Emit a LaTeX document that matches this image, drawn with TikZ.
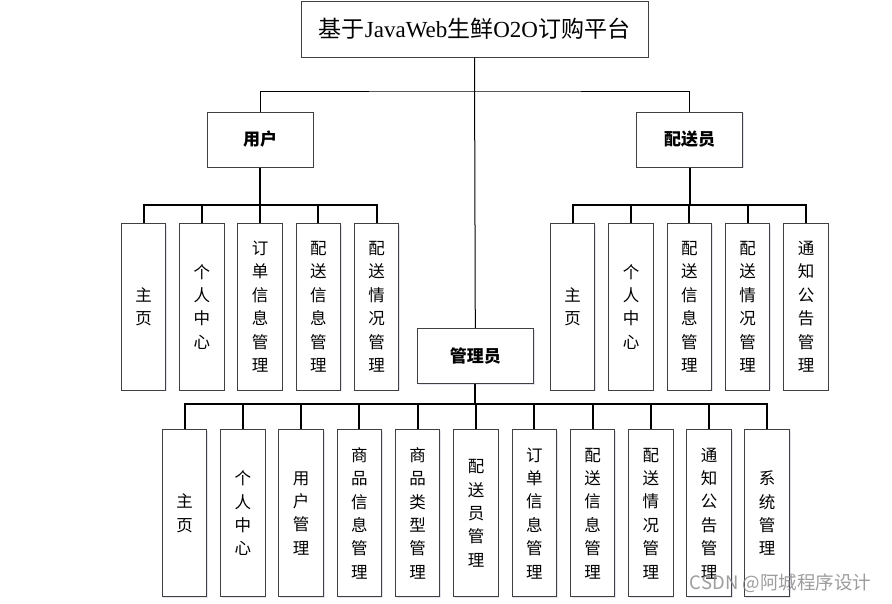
\documentclass[tikz,border=0pt]{standalone}
\usepackage{fontspec}
\setmainfont{Liberation Serif}
\newfontfamily\cjk{Noto Sans CJK SC}
\usetikzlibrary{shadows}
\tikzset{
  x=1pt,y=-1pt,
  box/.style={draw=black!75,line width=1pt,fill=white,inner sep=0pt,
    drop shadow={shadow xshift=1.2pt,shadow yshift=-1.2pt,fill=blue!40!gray,opacity=0.15}},
  topbox/.style={box,minimum width=347pt,minimum height=56pt,font=\fontsize{23}{27}\selectfont},
  midbox/.style={box,minimum width=106pt,minimum height=55pt,font=\cjk\bfseries\fontsize{17}{20}\selectfont},
  leaf/.style={box,minimum width=44.5pt,minimum height=166.7pt,align=center,
    font=\cjk\fontsize{16.5}{23.4}\selectfont},
  thin/.style={draw=black,line width=1pt},
  bus/.style={draw=black,line width=2pt},
}
\begin{document}
\begin{tikzpicture}
\useasboundingbox (0,0) rectangle (892,603);
\fill[white] (0,0) rectangle (892,603);

\node[topbox] (top) at (474.5,29) {{\cjk 基于}JavaWeb{\cjk 生鲜}O2O{\cjk 订购平台}};
\node[midbox] (user) at (260,139.5) {用户};
\node[midbox] (deliv) at (689.5,139.5) {配送员};
\node[midbox,minimum width=116pt] (admin) at (475.3,355.8) {管理员};

\coordinate (tbus) at (475,91);
\draw[thin] (user.north) |- (tbus) -| (deliv.north);
\draw[thin] (top.south) -- (admin.north);

% user children
\node[leaf] (u1) at (143.5,306.7) {主\\页};
\node[leaf] (u2) at (201.8,306.7) {个\\人\\中\\心};
\node[leaf] (u3) at (260,306.7) {订\\单\\信\\息\\管\\理};
\node[leaf] (u4) at (318.3,306.7) {配\\送\\信\\息\\管\\理};
\node[leaf] (u5) at (376.7,306.7) {配\\送\\情\\况\\管\\理};
\coordinate (ubus) at (260,205);
\draw[bus] (user.south) -- (ubus);
\foreach \c in {u1,u2,u3,u4,u5} \draw[bus] (ubus) -| (\c.north);

% delivery children
\node[leaf] (d1) at (572.7,306.7) {主\\页};
\node[leaf] (d2) at (631,306.7) {个\\人\\中\\心};
\node[leaf] (d3) at (689.3,306.7) {配\\送\\信\\息\\管\\理};
\node[leaf] (d4) at (747.7,306.7) {配\\送\\情\\况\\管\\理};
\node[leaf] (d5) at (806,306.7) {通\\知\\公\\告\\管\\理};
\coordinate (dbus) at (689.5,205);
\draw[bus] (deliv.south) -- (dbus);
\foreach \c in {d1,d2,d3,d4,d5} \draw[bus] (dbus) -| (\c.north);

% admin children
\node[leaf] (a1) at (184.5,513.3) {主\\页};
\node[leaf] (a2) at (242.8,513.3) {个\\人\\中\\心};
\node[leaf] (a3) at (301.1,513.3) {用\\户\\管\\理};
\node[leaf] (a4) at (359.4,513.3) {商\\品\\信\\息\\管\\理};
\node[leaf] (a5) at (417.7,513.3) {商\\品\\类\\型\\管\\理};
\node[leaf] (a6) at (476,513.3) {配\\送\\员\\管\\理};
\node[leaf] (a7) at (534.3,513.3) {订\\单\\信\\息\\管\\理};
\node[leaf] (a8) at (592.6,513.3) {配\\送\\信\\息\\管\\理};
\node[leaf] (a9) at (650.9,513.3) {配\\送\\情\\况\\管\\理};
\node[leaf] (a10) at (709.2,513.3) {通\\知\\公\\告\\管\\理};
\node[leaf] (a11) at (767.2,513.3) {系\\统\\管\\理};
\coordinate (abus) at (475.3,404.3);
\draw[bus] (admin.south) -- (abus);
\foreach \c in {a1,a2,a3,a4,a5,a6,a7,a8,a9,a10,a11} \draw[bus] (abus) -| (\c.north);

% watermark
\node[text=black!45,opacity=0.85,font=\cjk\fontsize{18.5}{20}\selectfont,anchor=center] (wm) at (780.5,583) {CSDN @阿城程序设计};
\end{tikzpicture}
\end{document}
